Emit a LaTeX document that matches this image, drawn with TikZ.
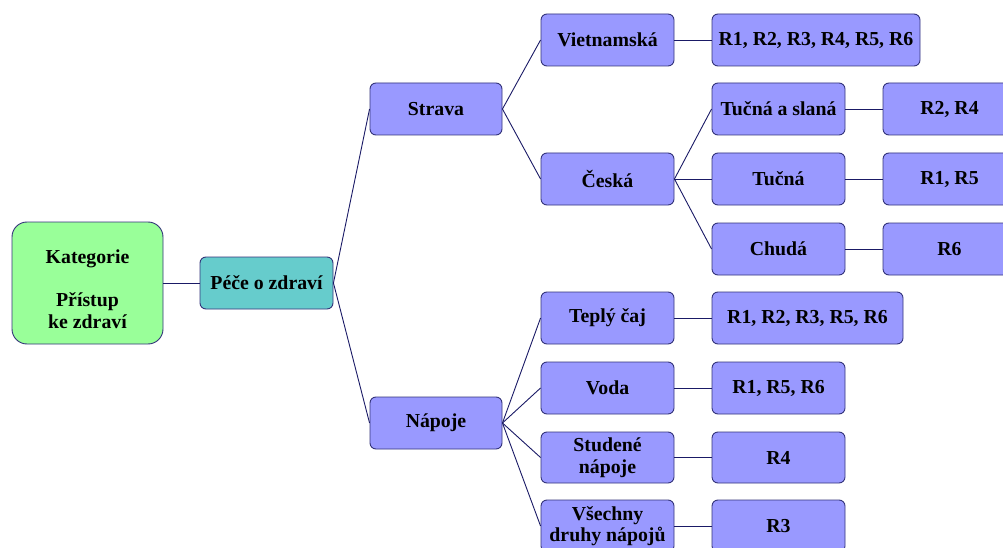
\documentclass[tikz,border=0pt]{standalone}
\usepackage{fontspec}
\setmainfont{Liberation Serif}
\begin{document}
\begin{tikzpicture}[x=1pt,y=-1pt,
  box/.style={draw=boxline, line width=0.9pt, fill=boxfill, rounded corners=6pt,
    minimum width=133pt, minimum height=52pt, inner sep=2pt, align=center,
    font=\fontsize{19.8}{21.5}\selectfont\bfseries},
  link/.style={draw=linkcol, line width=0.9pt}]
\definecolor{boxfill}{HTML}{9999FF}
\definecolor{boxline}{HTML}{33337A}
\definecolor{linkcol}{HTML}{1A1A66}
\definecolor{rootfill}{HTML}{99FF99}
\definecolor{midfill}{HTML}{66CCCC}
\useasboundingbox (0,0) rectangle (1003,548);
\clip (0,0) rectangle (1003,548);
% root and first level
\node[box, fill=rootfill, rounded corners=15pt, minimum width=151pt, minimum height=122pt] (kat) at (87.5,283)
  {\rule{0pt}{26pt}Kategorie\\[22pt]Přístup\\ke zdraví};
\node[box, fill=midfill] (pece) at (266.5,283) {Péče o zdraví};
\node[box, minimum width=132pt] (strava) at (436,109) {Strava};
\node[box, minimum width=132pt] (napoje) at (436,423) {Nápoje};
% food branch
\node[box] (viet) at (607.5,40) {Vietnamská};
\node[box] (ceska) at (607.5,179) {Česká};
\node[box, minimum width=208pt] (rviet) at (816,40) {R1, R2, R3, R4, R5, R6};
\node[box] (tucsl) at (778.5,109) {Tučná a slaná};
\node[box] (rtucsl) at (949.5,109) {R2, R4};
\node[box] (tuc) at (778.5,179) {Tučná};
\node[box] (rtuc) at (949.5,179) {R1, R5};
\node[box] (chuda) at (778.5,249) {Chudá};
\node[box] (rchuda) at (949.5,249) {R6};
% drinks branch
\node[box] (teply) at (607.5,318) {Teplý čaj};
\node[box, minimum width=191pt] (rteply) at (807.5,318) {R1, R2, R3, R5, R6};
\node[box] (voda) at (607.5,388) {Voda};
\node[box] (rvoda) at (778.5,388) {R1, R5, R6};
\node[box, minimum height=51pt] (stud) at (607.5,457.5) {Studené\\nápoje};
\node[box, minimum height=51pt] (rstud) at (778.5,457.5) {R4};
\node[box] (vse) at (607.5,526) {Všechny\\druhy nápojů};
\node[box] (rvse) at (778.5,526) {R3};
% connectors
\draw[link] (kat.east) -- (pece.west);
\draw[link] (pece.east) -- (strava.west);
\draw[link] (pece.east) -- (napoje.west);
\draw[link] (strava.east) -- (viet.west);
\draw[link] (strava.east) -- (ceska.west);
\draw[link] (viet.east) -- (rviet.west);
\draw[link] (ceska.east) -- (tucsl.west);
\draw[link] (ceska.east) -- (tuc.west);
\draw[link] (ceska.east) -- (chuda.west);
\draw[link] (tucsl.east) -- (rtucsl.west);
\draw[link] (tuc.east) -- (rtuc.west);
\draw[link] (chuda.east) -- (rchuda.west);
\draw[link] (napoje.east) -- (teply.west);
\draw[link] (napoje.east) -- (voda.west);
\draw[link] (napoje.east) -- (stud.west);
\draw[link] (napoje.east) -- (vse.west);
\draw[link] (teply.east) -- (rteply.west);
\draw[link] (voda.east) -- (rvoda.west);
\draw[link] (stud.east) -- (rstud.west);
\draw[link] (vse.east) -- (rvse.west);
\end{tikzpicture}
\end{document}
